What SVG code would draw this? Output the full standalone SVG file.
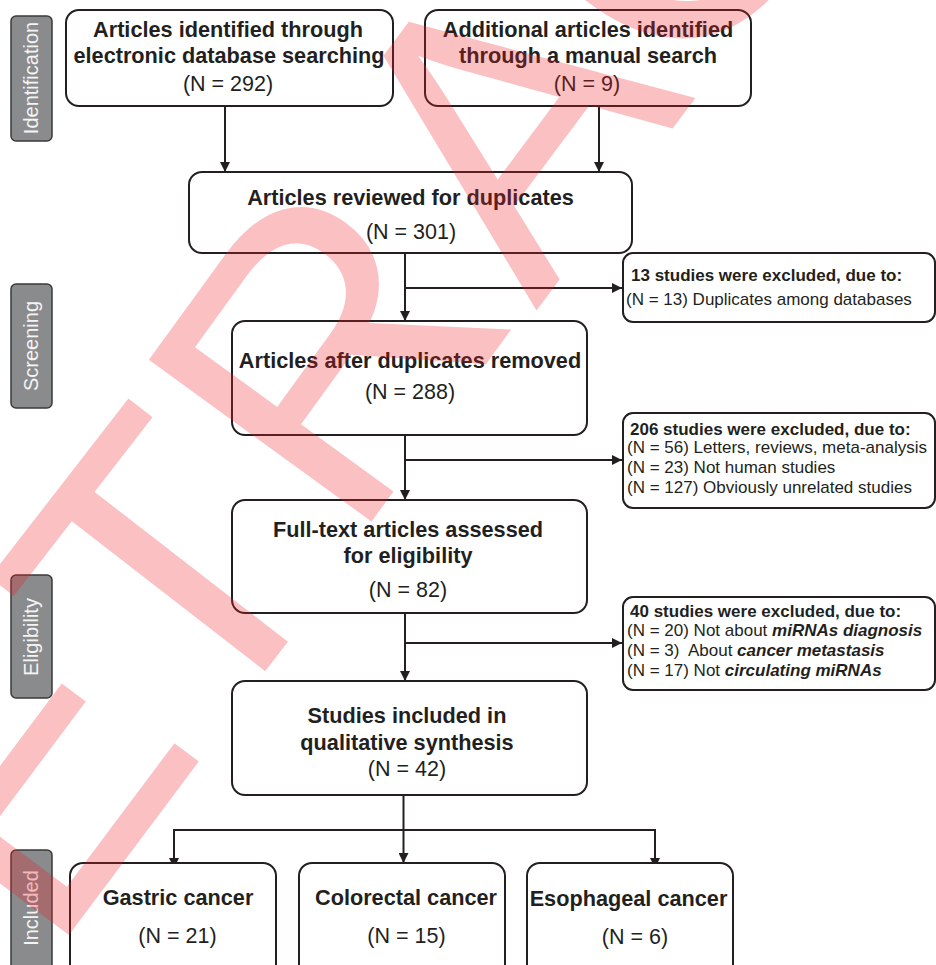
<svg xmlns="http://www.w3.org/2000/svg" width="936" height="965" viewBox="0 0 936 965">
<defs>
<marker id="ah" markerUnits="userSpaceOnUse" markerWidth="10" markerHeight="10" refX="10" refY="5" orient="auto">
<path d="M0,0 L10,5 L0,10 z" fill="#231f20"/>
</marker>
<style>
.box{fill:#fff;stroke:#231f20;stroke-width:2}
.stage{fill:#8a8b8d;stroke:#3a3a3a;stroke-width:1.5}
.stxt{font-family:"Liberation Sans",Arial,sans-serif;font-size:20px;fill:#f4f4f4;text-anchor:middle}
.b{font-family:"Liberation Sans",Arial,sans-serif;font-size:21.7px;font-weight:bold;fill:#231f20;text-anchor:middle}
.r{font-family:"Liberation Sans",Arial,sans-serif;font-size:21.5px;fill:#231f20;text-anchor:middle}
.eb{font-family:"Liberation Sans",Arial,sans-serif;font-size:17px;font-weight:bold;fill:#231f20}
.er{font-family:"Liberation Sans",Arial,sans-serif;font-size:17px;fill:#231f20}
.bi{font-weight:bold;font-style:italic}
.con{fill:none;stroke:#231f20;stroke-width:2}
.wm{font-family:"Liberation Sans",Arial,sans-serif;font-size:400px;fill:#ED1C24;fill-opacity:0.28}
</style>
</defs>
<rect width="936" height="965" fill="#fff"/>

<g id="stages">
<g id="stage-identification"><rect class="stage" x="11" y="16" width="41" height="125" rx="5"/><text class="stxt" transform="translate(38,78) rotate(-90)">Identification</text></g>
<g id="stage-screening"><rect class="stage" x="11" y="284" width="41" height="124" rx="5"/><text class="stxt" transform="translate(38,346) rotate(-90)">Screening</text></g>
<g id="stage-eligibility"><rect class="stage" x="11" y="575" width="41" height="123" rx="5"/><text class="stxt" transform="translate(38,637) rotate(-90)">Eligibility</text></g>
<g id="stage-included"><rect class="stage" x="11" y="850" width="41" height="130" rx="5"/><text class="stxt" transform="translate(38,908) rotate(-90)">Included</text></g>
</g>

<g id="connectors">
<line class="con" x1="225" y1="106" x2="225" y2="172" marker-end="url(#ah)"/>
<line class="con" x1="599" y1="106" x2="599" y2="172" marker-end="url(#ah)"/>
<line class="con" x1="405" y1="253" x2="405" y2="321" marker-end="url(#ah)"/>
<line class="con" x1="405" y1="288" x2="622" y2="288" marker-end="url(#ah)"/>
<line class="con" x1="405" y1="435" x2="405" y2="500" marker-end="url(#ah)"/>
<line class="con" x1="405" y1="460" x2="622" y2="460" marker-end="url(#ah)"/>
<line class="con" x1="405" y1="613" x2="405" y2="681" marker-end="url(#ah)"/>
<line class="con" x1="405" y1="643" x2="622" y2="643" marker-end="url(#ah)"/>
<line class="con" x1="403.5" y1="795" x2="403.5" y2="863" marker-end="url(#ah)"/>
<polyline class="con" points="174,868 174,830 655,830 655,868"/>
<path d="M169,858 L179,858 L174,868 z" fill="#231f20"/>
<path d="M650,858 L660,858 L655,868 z" fill="#231f20"/>
</g>

<g id="node-db">
<rect class="box" x="66" y="10" width="327" height="96" rx="13"/>
<text class="b" x="228" y="37">Articles identified through</text>
<text class="b" x="229" y="63">electronic database searching</text>
<text class="r" x="228" y="91">(N = 292)</text>
</g>
<g id="node-manual">
<rect class="box" x="425" y="10" width="326" height="96" rx="13"/>
<text class="b" x="588" y="37">Additional articles identified</text>
<text class="b" x="588" y="63">through a manual search</text>
<text class="r" x="587" y="91">(N = 9)</text>
</g>
<g id="node-reviewed">
<rect class="box" x="189" y="172" width="443" height="81" rx="13"/>
<text class="b" x="410.5" y="205">Articles reviewed for duplicates</text>
<text class="r" x="411" y="239">(N = 301)</text>
</g>
<g id="node-excl1">
<rect class="box" x="623" y="253" width="312" height="69" rx="10"/>
<text class="eb" x="631" y="281">13 studies were excluded, due to:</text>
<text class="er" x="626" y="305">(N = 13) Duplicates among databases</text>
</g>
<g id="node-dedup">
<rect class="box" x="232" y="321" width="355" height="114" rx="13"/>
<text class="b" x="410" y="368">Articles after duplicates removed</text>
<text class="r" x="410" y="399">(N = 288)</text>
</g>
<g id="node-excl2">
<rect class="box" x="623" y="413" width="312" height="95" rx="10"/>
<text class="eb" x="630" y="435">206 studies were excluded, due to:</text>
<text class="er" x="627" y="453">(N = 56) Letters, reviews, meta-analysis</text>
<text class="er" x="627" y="473">(N = 23) Not human studies</text>
<text class="er" x="627" y="493">(N = 127) Obviously unrelated studies</text>
</g>
<g id="node-fulltext">
<rect class="box" x="232" y="500" width="355" height="113" rx="13"/>
<text class="b" x="408" y="537">Full-text articles assessed</text>
<text class="b" x="408" y="563">for eligibility</text>
<text class="r" x="408" y="597">(N = 82)</text>
</g>
<g id="node-excl3">
<rect class="box" x="623" y="597" width="312" height="93" rx="10"/>
<text class="eb" x="630" y="617">40 studies were excluded, due to:</text>
<text class="er" x="627" y="636">(N = 20) Not about <tspan class="bi">miRNAs diagnosis</tspan></text>
<text class="er" x="627" y="656" xml:space="preserve">(N = 3)  About <tspan class="bi">cancer metastasis</tspan></text>
<text class="er" x="627" y="676">(N = 17) Not <tspan class="bi">circulating miRNAs</tspan></text>
</g>
<g id="node-included">
<rect class="box" x="232" y="681" width="355" height="114" rx="13"/>
<text class="b" x="407" y="723">Studies included in</text>
<text class="b" x="407" y="750">qualitative synthesis</text>
<text class="r" x="407" y="776">(N = 42)</text>
</g>
<g id="node-gastric">
<rect class="box" x="70" y="863" width="206" height="115" rx="13"/>
<text class="b" x="178" y="905">Gastric cancer</text>
<text class="r" x="177.5" y="943">(N = 21)</text>
</g>
<g id="node-colorectal">
<rect class="box" x="299" y="863" width="206" height="115" rx="13"/>
<text class="b" x="406" y="905">Colorectal cancer</text>
<text class="r" x="406.5" y="943">(N = 15)</text>
</g>
<g id="node-esophageal">
<rect class="box" x="527" y="863" width="206" height="115" rx="13"/>
<text class="b" x="628.5" y="906">Esophageal cancer</text>
<text class="r" x="635" y="944">(N = 6)</text>
</g>

<g id="watermark">
<text class="wm" transform="rotate(-53.2)" x="-1029.1 -740.2 -482.1 -227.9 72 330.1 659.7 949.8 1240" y="615.2 615.3 612.6 610.4 615.6 613.2 613.3 613.2 612.6" rotate="0 0 1 -0.8 0 0 0 0 0">RETRACTED</text>
</g>
</svg>
